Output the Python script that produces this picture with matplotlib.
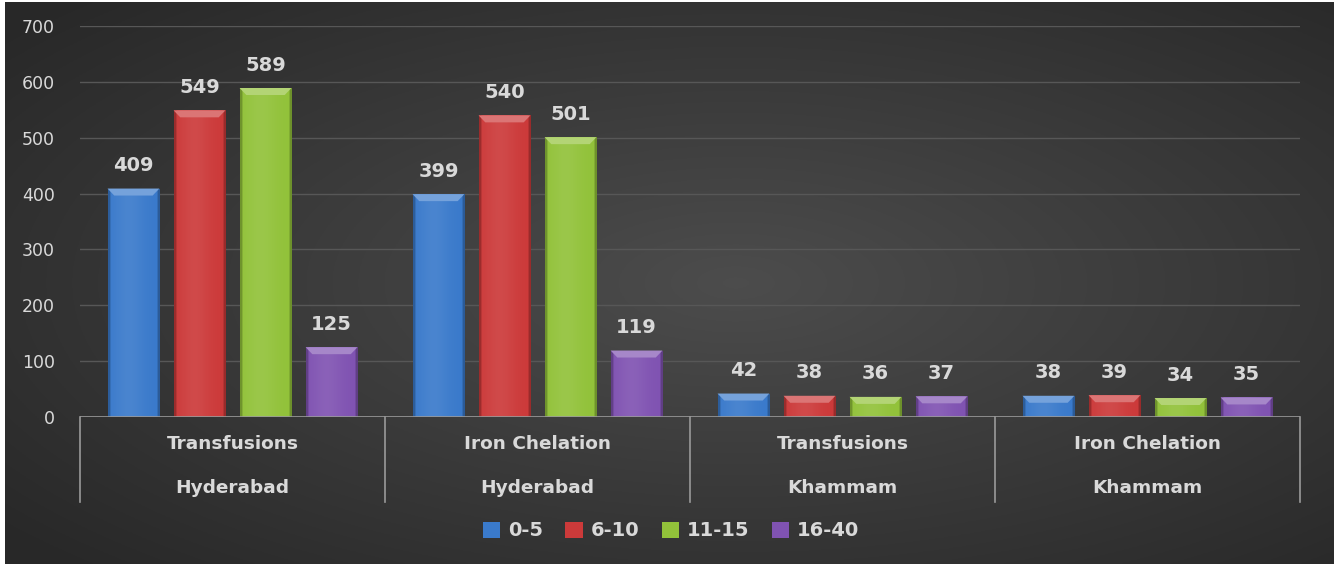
import numpy as np
import matplotlib
matplotlib.use("Agg")
import matplotlib.pyplot as plt
from matplotlib.patches import Polygon
from matplotlib.colors import to_rgb
import matplotlib.transforms as mtransforms

plt.rcParams['font.family'] = ['DejaVu Sans']

metrics = ["Transfusions", "Iron Chelation", "Transfusions", "Iron Chelation"]
cities = ["Hyderabad", "Hyderabad", "Khammam", "Khammam"]
age_groups = ["0-5", "6-10", "11-15", "16-40"]
values = {
    "0-5":   [409, 399, 42, 38],
    "6-10":  [549, 540, 38, 39],
    "11-15": [589, 501, 36, 34],
    "16-40": [125, 119, 37, 35],
}
colors = ["#3a7acb", "#cc3a3a", "#92c23a", "#8053b2"]
yticks = [0, 100, 200, 300, 400, 500, 600, 700]
text_color = "#d9d9d9"

W, H = 1334, 564
fig = plt.figure(figsize=(W / 100, H / 100), dpi=100)
fig.patch.set_facecolor("white")

# background radial gradient
bg = fig.add_axes([5 / W, 0, 1 - 5 / W, 1 - 2 / H])
bg.set_axis_off()
yy, xx = np.mgrid[0:1:300j, 0:1:700j]
r = np.sqrt(((xx - 0.55) / 0.9) ** 2 + ((yy - 0.5) / 0.9) ** 2)
lum = np.clip(0.30 - 0.18 * r, 0.16, 0.30)
img = np.dstack([lum, lum, lum])
bg.imshow(img, extent=[0, 1, 0, 1], aspect="auto", origin="lower")
bg.set_xlim(0, 1)
bg.set_ylim(0, 1)

ax = fig.add_axes([80 / W, (H - 417) / H, 1220 / W, 391 / H])
ax.set_facecolor("none")
for s in ax.spines.values():
    s.set_visible(False)
ax.set_yticks(yticks)
ax.set_yticklabels([str(v) for v in yticks], color=text_color, fontsize=12.5)
ax.tick_params(axis="y", length=0, pad=18)
ax.tick_params(axis="x", length=0, labelbottom=False)
ax.set_xticks([])
for t in yticks[1:]:
    ax.axhline(t, color="#575757", lw=1.0, zorder=0)
ax.axhline(0, color="#9a9a9a", lw=1.2, zorder=3)

x = np.arange(len(metrics))
width = 0.17
step = 0.2165
px_per_unit = 391 / 700

def shade(c, f):
    c = np.array(to_rgb(c))
    if f >= 0:
        return tuple(c + (1 - c) * f)
    return tuple(c * (1 + f))

for i, (g, col) in enumerate(zip(age_groups, colors)):
    offs = (i - 1.5) * step
    vals = values[g]
    bars = ax.bar(x + offs, vals, width, color=col, zorder=2, linewidth=0)
    for b, v in zip(bars, vals):
        x0, x1 = b.get_x(), b.get_x() + b.get_width()
        gx = np.linspace(0, 1, 64)
        prof = 0.08 * np.exp(-((gx - 0.4) / 0.3) ** 2) - 0.25 * (np.abs(gx - 0.5) > 0.46)
        grad = np.array([shade(col, p) for p in prof])[None, :, :]
        im = ax.imshow(grad, extent=[x0, x1, 0, v], aspect="auto", zorder=2.1,
                       interpolation="bilinear")
        im.set_clip_path(b)
        bh = min(7 / px_per_unit, v * 0.5)
        inset = 0.022
        poly = Polygon([[x0, v], [x1, v], [x1 - inset, v - bh], [x0 + inset, v - bh]],
                       closed=True, facecolor=shade(col, 0.3), edgecolor="none", zorder=2.2)
        ax.add_patch(poly)
        ax.text(b.get_x() + b.get_width() / 2, v + 23 / px_per_unit, str(v),
                ha="center", va="center", fontsize=14, fontweight="bold", color=text_color,
                zorder=4)
ax.set_xlim(-0.5, 3.5)
ax.set_ylim(0, 700)

# multi-level category axis
trans = mtransforms.blended_transform_factory(ax.transData, ax.transAxes)
sep_bottom = -(502 - 417) / 391
for xs in np.arange(-0.5, len(metrics), 1.0):
    ax.plot([xs, xs], [0, sep_bottom], transform=trans, color="#9a9a9a", lw=1.2,
            clip_on=False, zorder=3)
for xi, m, c in zip(x, metrics, cities):
    ax.text(xi, -(444 - 417) / 391, m, transform=trans, ha="center", va="center",
            fontsize=13.3, fontweight="bold", color=text_color)
    ax.text(xi, -(488 - 417) / 391, c, transform=trans, ha="center", va="center",
            fontsize=13.3, fontweight="bold", color=text_color)

# legend
handles = [plt.Rectangle((0, 0), 1, 1, facecolor=c, edgecolor="none") for c in colors]
leg = fig.legend(handles, age_groups, loc="center", bbox_to_anchor=(671 / W, 1 - 531 / H),
                 ncol=4, frameon=False, fontsize=14, handlelength=0.9, handleheight=0.9,
                 handletextpad=0.4, columnspacing=1.15)
for t in leg.get_texts():
    t.set_color(text_color)
    t.set_fontweight("bold")

fig.savefig("out.png", dpi=100, facecolor=fig.get_facecolor())
